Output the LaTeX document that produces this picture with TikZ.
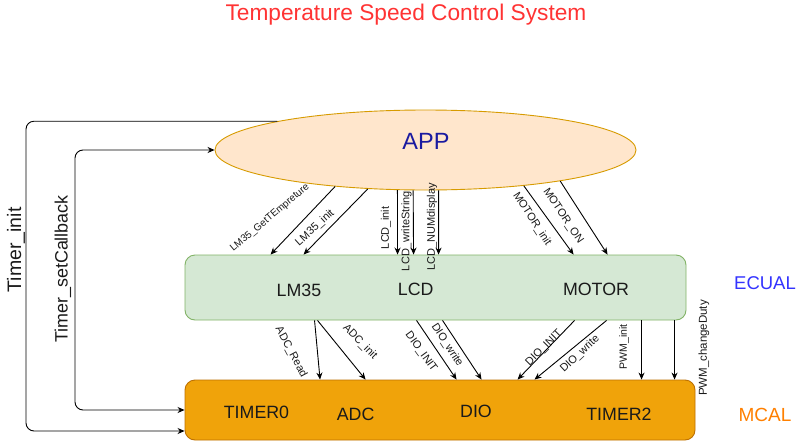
\documentclass[tikz,border=0pt]{standalone}
\usepackage{fontspec}
\setmainfont{Liberation Sans}
\usetikzlibrary{shapes.geometric,arrows.meta,calc}
\definecolor{appfill}{HTML}{FFE6CC}
\definecolor{appdraw}{HTML}{D79B00}
\definecolor{ecfill}{HTML}{D5E8D4}
\definecolor{ecdraw}{HTML}{82B366}
\definecolor{mcfill}{HTML}{F0A30A}
\definecolor{mcdraw}{HTML}{BD7000}
\definecolor{titlered}{HTML}{FF3333}
\definecolor{appblue}{HTML}{1A1AA0}
\definecolor{ecblue}{HTML}{3333FF}
\definecolor{mcorange}{HTML}{FF8000}
\definecolor{txtdark}{HTML}{1A1A1A}
\begin{document}
\begin{tikzpicture}[x=1pt,y=-1pt,
  conn/.style={draw=black, line width=0.9pt, -{Stealth[length=7pt,width=6pt]}},
  conn2/.style={draw=black, line width=0.9pt, {Stealth[length=7pt,width=6pt]}-{Stealth[length=7pt,width=6pt]}},
  lbl/.style={inner sep=0pt, font=\fontsize{11}{11}\selectfont, text=txtdark},
  blk/.style={inner sep=0pt, font=\fontsize{17.8}{17.8}\selectfont, text=txtdark},
  layer/.style={draw, rounded corners=10pt, line width=0.9pt, inner sep=0pt}
]
\useasboundingbox (0,0) rectangle (811,442);
\fill[white] (0,0) rectangle (811,442);

\node[text=titlered, font=\fontsize{22.7}{22.7}\selectfont, inner sep=0pt] (title) at (406,15) {Temperature Speed Control System};

\node[ellipse, draw=appdraw, fill=appfill, line width=0.9pt, minimum width=421pt, minimum height=80pt, inner sep=0pt] (app) at (425.5,150) {};
\node[text=appblue, font=\fontsize{23.5}{23.5}\selectfont, inner sep=0pt] (apptxt) at (426,141) {APP};

\node[layer, draw=ecdraw, fill=ecfill, minimum width=501pt, minimum height=65pt] (ecual) at (435.5,287.5) {};
\node[layer, draw=mcdraw, fill=mcfill, minimum width=510pt, minimum height=60pt] (mcal) at (440,410) {};

\node[blk] (lm35) at (299,290) {LM35};
\node[blk] (lcd) at (415.7,289) {LCD};
\node[blk] (motor) at (596,289) {MOTOR};
\node[blk] (timer0) at (256.5,412) {TIMER0};
\node[blk] (adc) at (355.6,414) {ADC};
\node[blk] (dio) at (476,411) {DIO};
\node[blk] (timer2) at (619,414) {TIMER2};

\node[text=ecblue, font=\fontsize{18.5}{18.5}\selectfont, inner sep=0pt] (eclbl) at (765,283) {ECUAL};
\node[text=mcorange, font=\fontsize{19}{19}\selectfont, inner sep=0pt] (mclbl) at (765,415) {MCAL};

% APP -> ECUAL
\draw[conn] (app.202) -- ($(ecual.north west)+(86,0)$);
\draw[conn] (app.214.8) -- ($(ecual.north west)+(119,0)$);
\draw[conn] (app.235.3) -- ($(ecual.north west)+(213,0)$);
\draw[conn] (app.253.9) -- ($(ecual.north west)+(229,0)$);
\draw[conn] (app.288.7) -- ($(ecual.north west)+(254,0)$);
\draw[conn] (app.340.5) -- ($(ecual.north west)+(389,0)$);
\draw[conn] (app.347) -- ($(ecual.north west)+(423,0)$);

\node[lbl, rotate=40, font=\fontsize{10}{10}\selectfont] (l1) at (270,218) {LM35\_GetTEmpreture};
\node[lbl, rotate=42] (l2) at (315,228) {LM35\_init};
\node[lbl, rotate=90] (l3) at (386,228) {LCD\_init};
\node[lbl, rotate=90] (l4) at (406.5,231) {LCD\_writeString};
\node[lbl, rotate=90] (l5) at (432,227) {LCD\_NUMdisplay};
\node[lbl, rotate=-57] (l6) at (532,219) {MOTOR\_init};
\node[lbl, rotate=-56] (l7) at (563,216) {MOTOR\_ON};

% ECUAL -> MCAL
\draw[conn] ($(ecual.south west)+(130,0)$) -- ($(mcal.north west)+(135.5,0)$);
\draw[conn] ($(ecual.south west)+(133,0)$) -- ($(mcal.north west)+(181,0)$);
\draw[conn] ($(ecual.south west)+(232,0)$) -- ($(mcal.north west)+(272,0)$);
\draw[conn] ($(ecual.south west)+(258,0)$) -- ($(mcal.north west)+(297,0)$);
\draw[conn] ($(ecual.south west)+(390,0)$) -- ($(mcal.north west)+(333,0)$);
\draw[conn] ($(ecual.south west)+(422,0)$) -- ($(mcal.north west)+(350,0)$);
\draw[conn] ($(ecual.south west)+(457,0)$) -- ($(mcal.north west)+(457,0)$);
\draw[conn] ($(ecual.south west)+(490,0)$) -- ($(mcal.north west)+(490,0)$);

\node[lbl, rotate=-62] (m1) at (291,352) {ADC\_Read};
\node[lbl, rotate=-45] (m2) at (360,342) {ADC\_init};
\node[lbl, rotate=-54] (m3) at (421,352) {DIO\_INIT};
\node[lbl, rotate=-57] (m4) at (447,345) {DIO\_write};
\node[lbl, rotate=45] (m5) at (544,348) {DIO\_INIT};
\node[lbl, rotate=43] (m6) at (580,354) {DIO\_write};
\node[lbl, rotate=90, font=\fontsize{10.5}{10.5}\selectfont] (m7) at (624,347) {PWM\_init};
\node[lbl, rotate=90, font=\fontsize{11.5}{11.5}\selectfont] (m8) at (704,348) {PWM\_changeDuty};

% Timer connectors
\coordinate (ti) at (26,431);
\coordinate (sc) at (75,280);
\draw[conn, rounded corners=8pt] (app.169.2) -| (ti) -- (ti -| mcal.west);
\draw[conn2, rounded corners=8pt] (app.west) -| (sc) |- (mcal.west);

\node[text=txtdark, rotate=90, font=\fontsize{19.5}{19.5}\selectfont, inner sep=0pt] (tinit) at (16,250) {Timer\_init};
\node[text=txtdark, rotate=90, font=\fontsize{17.9}{17.9}\selectfont, inner sep=0pt] (tscb) at (63,269) {Timer\_setCallback};
\end{tikzpicture}
\end{document}
